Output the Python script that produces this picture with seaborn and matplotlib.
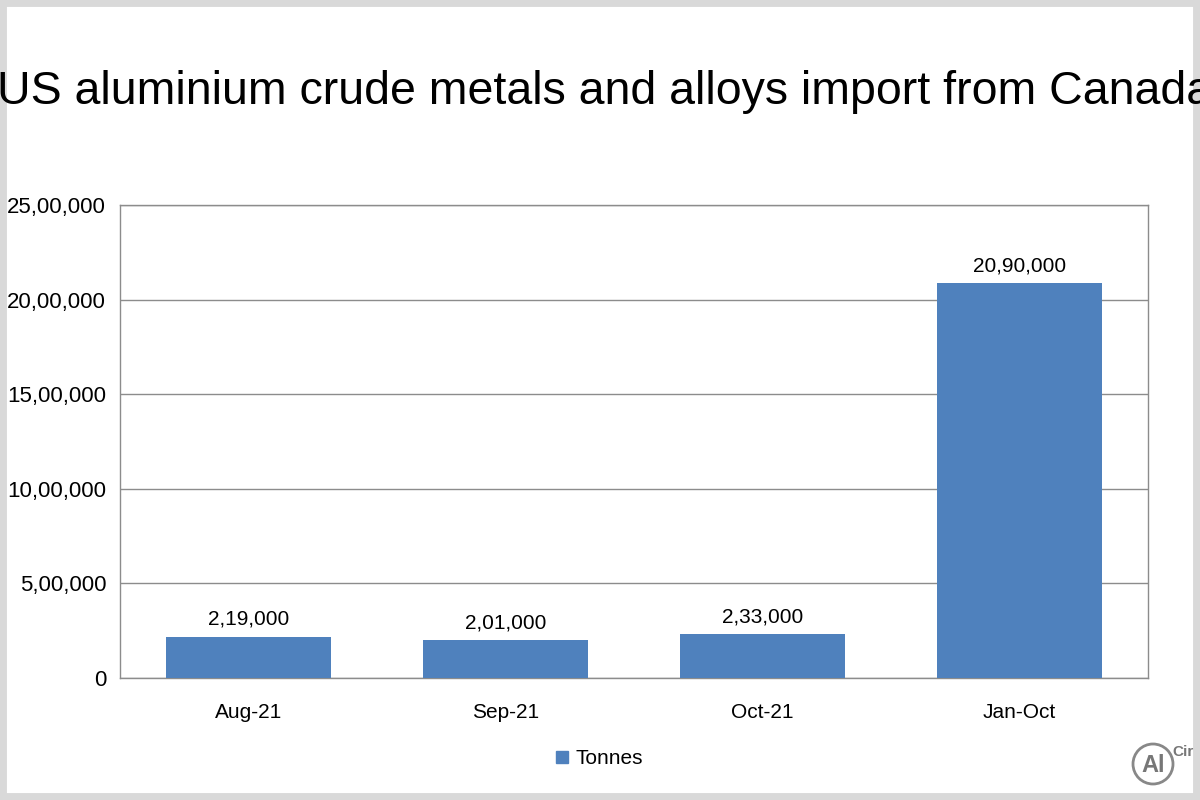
import matplotlib
matplotlib.use("Agg")
import matplotlib.pyplot as plt
import seaborn as sns
import pandas as pd
from matplotlib.patches import Rectangle, Ellipse

categories = ["Aug-21", "Sep-21", "Oct-21", "Jan-Oct"]
tonnes = [219000, 201000, 233000, 2090000]
value_labels = ["2,19,000", "2,01,000", "2,33,000", "20,90,000"]
yticks = [0, 500000, 1000000, 1500000, 2000000, 2500000]
ytick_labels = ["0", "5,00,000", "10,00,000", "15,00,000", "20,00,000", "25,00,000"]

sns.set_theme(style="white")
plt.rcParams['font.family'] = ['Liberation Sans', 'DejaVu Sans']
plt.rcParams['text.color'] = 'black'

fig = plt.figure(figsize=(12, 8), dpi=100)
ax = fig.add_axes([120/1200, 1-678/800, (1148-120)/1200, (678-205)/800])
df = pd.DataFrame({"cat": categories, "Tonnes": tonnes})
sns.barplot(data=df, x="cat", y="Tonnes", color="#4F81BD", saturation=1, width=0.64,
            ax=ax, zorder=3, edgecolor="none", linewidth=0)
ax.set_ylim(0, 2500000)
ax.set_yticks(yticks)
ax.set_yticklabels(ytick_labels, fontsize=16, color="black")
ax.tick_params(axis='x', labelsize=15, length=0, pad=18, labelcolor="black")
ax.tick_params(axis='y', length=0, pad=10)
ax.yaxis.grid(True, color="#8c8c8c", linewidth=1)
for s in ax.spines.values():
    s.set_color("#8c8c8c"); s.set_linewidth(1)
ax.set_xlabel(""); ax.set_ylabel("")
for i, (v, l) in enumerate(zip(tonnes, value_labels)):
    ax.text(i, v + 40000, l, ha="center", va="bottom", fontsize=15, color="black")

fig.text(605/1200, 1-92/800, "US aluminium crude metals and alloys import from Canada",
         ha="center", va="center", fontsize=33.5, color="black")
# legend
fig.patches.append(Rectangle((556/1200, 1-763/800), 12/1200, 12/800, transform=fig.transFigure, color="#4F81BD"))
fig.text(575/1200, 1-758/800, "Tonnes", ha="left", va="center", fontsize=15, color="black")
# logo
fig.patches.append(Ellipse((1153/1200, 1-764/800), 40/1200, 40/800, transform=fig.transFigure, fill=False, edgecolor="#888888", linewidth=2))
fig.text(1153/1200, 1-766/800, "Al", ha="center", va="center", fontsize=17, color="#777777", fontweight="bold")
fig.text(1172/1200, 1-752/800, "Cir", ha="left", va="center", fontsize=11, color="#777777", fontweight="bold")
# border
fig.patches.append(Rectangle((0, 0), 1, 1, transform=fig.transFigure, fill=False, edgecolor="#d9d9d9", linewidth=10))
fig.savefig("out.png", dpi=100)
